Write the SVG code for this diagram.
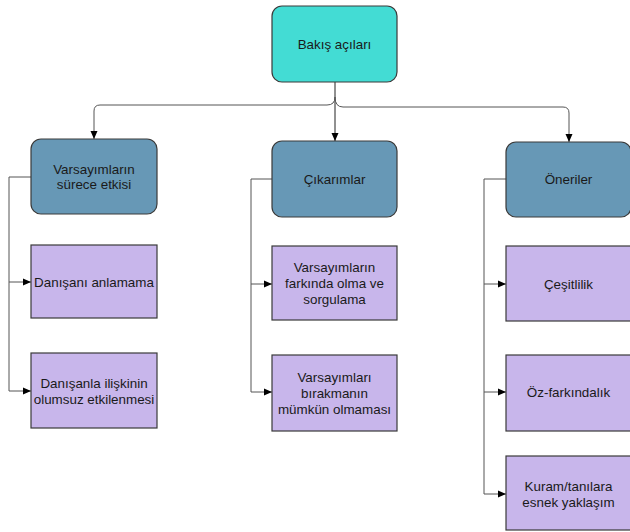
<svg xmlns="http://www.w3.org/2000/svg" width="630" height="532" viewBox="0 0 630 532">
<style>
text{font-family:"Liberation Sans",Arial,sans-serif;font-size:13.4px;fill:#1a1a1a;text-anchor:middle;dominant-baseline:central}
.top{fill:#43DCD4;stroke:#3a3a3a;stroke-width:1.2}
.mid{fill:#6798B6;stroke:#3a3a3a;stroke-width:1.2}
.leaf{fill:#C8B6EB;stroke:#3a3a3a;stroke-width:1.2}
.c{fill:none;stroke:#555;stroke-width:1}
</style>
<defs>
<marker id="ah" markerWidth="8" markerHeight="8" refX="8" refY="4" orient="auto" markerUnits="userSpaceOnUse">
<path d="M0,0.5 L8,4 L0,7.5 Z" fill="#000"/>
</marker>
</defs>
<rect width="630" height="532" fill="#fff"/>
<g id="connectors">
<path class="c" d="M335,82 V141" marker-end="url(#ah)" style="stroke:#222"/>
<path class="c" d="M335,97 q0,8 -8,8 H100 q-6,0 -6,6 V139" marker-end="url(#ah)"/>
<path class="c" d="M335,97 q0,10 8,10 H563 q6,0 6,6 V142" marker-end="url(#ah)"/>
<path class="c" d="M31,177 H9 V391 H31" marker-end="url(#ah)"/>
<path class="c" d="M9,282 H31" marker-end="url(#ah)"/>
<path class="c" d="M272,179 H251 V392 H272" marker-end="url(#ah)"/>
<path class="c" d="M251,284 H272" marker-end="url(#ah)"/>
<path class="c" d="M506,179 H484 V494 H506" marker-end="url(#ah)"/>
<path class="c" d="M484,284 H506" marker-end="url(#ah)"/>
<path class="c" d="M484,392 H506" marker-end="url(#ah)"/>
</g>
<g id="n-bakis"><rect class="top" x="272" y="6" width="125" height="76" rx="10"/><text x="334.5" y="44">Bakış açıları</text></g>
<g id="n-varsayim"><rect class="mid" x="31" y="139" width="126" height="75" rx="10"/><text x="94" y="169">Varsayımların</text><text x="94" y="184">sürece etkisi</text></g>
<g id="n-cikarim"><rect class="mid" x="272" y="141" width="125" height="76" rx="10"/><text x="334.5" y="179">Çıkarımlar</text></g>
<g id="n-oneri"><rect class="mid" x="506" y="142" width="125" height="75" rx="10"/><text x="568.5" y="179">Öneriler</text></g>
<g id="n-anlama"><rect class="leaf" x="31" y="245" width="126" height="73"/><text x="94" y="282">Danışanı anlamama</text></g>
<g id="n-iliski"><rect class="leaf" x="31" y="353" width="126" height="75"/><text x="94" y="383">Danışanla ilişkinin</text><text x="94" y="399">olumsuz etkilenmesi</text></g>
<g id="n-farkinda"><rect class="leaf" x="272" y="246" width="125" height="74"/><text x="334.5" y="267">Varsayımların</text><text x="334.5" y="283">farkında olma ve</text><text x="334.5" y="299">sorgulama</text></g>
<g id="n-birakma"><rect class="leaf" x="272" y="355" width="125" height="76"/><text x="334.5" y="377">Varsayımları</text><text x="334.5" y="393">bırakmanın</text><text x="334.5" y="409">mümkün olmaması</text></g>
<g id="n-cesit"><rect class="leaf" x="506" y="246" width="125" height="75"/><text x="568.5" y="284">Çeşitlilik</text></g>
<g id="n-oz"><rect class="leaf" x="506" y="355" width="125" height="76"/><text x="568.5" y="392">Öz-farkındalık</text></g>
<g id="n-kuram"><rect class="leaf" x="506" y="456" width="125" height="74"/><text x="568.5" y="486">Kuram/tanılara</text><text x="568.5" y="502">esnek yaklaşım</text></g>
</svg>
